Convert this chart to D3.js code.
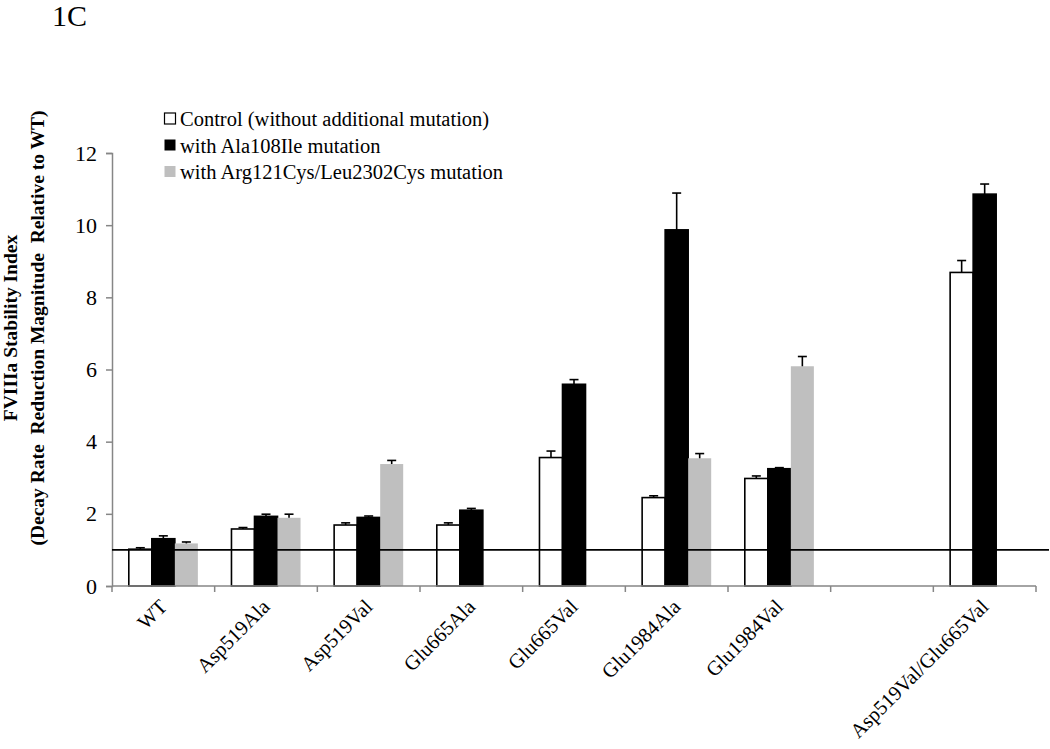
<!DOCTYPE html>
<html>
<head>
<meta charset="utf-8">
<script src="https://cdn.jsdelivr.net/npm/d3@7"></script>
<style>
  html, body { margin: 0; padding: 0; background: #fff; }
  svg { display: block; font-family: "Liberation Serif", "Times New Roman", serif; }
</style>
</head>
<body>
<svg id="chart" width="1050" height="749"></svg>
<script>
// ---- data ----
const categories = ["WT", "Asp519Ala", "Asp519Val", "Glu665Ala", "Glu665Val", "Glu1984Ala", "Glu1984Val", " ", "Asp519Val/Glu665Val"];
const seriesNames = ["Control (without additional mutation)", "with Ala108Ile mutation", "with Arg121Cys/Leu2302Cys mutation"];
const controlValues = [1.02, 1.58, 1.69, 1.69, 3.56, 2.45, 2.98, null, 8.69];
const controlErrors = [0.04, 0.04, 0.06, 0.06, 0.18, 0.05, 0.07, null, 0.33];
const ala108Values  = [1.31, 1.93, 1.90, 2.10, 5.59, 9.87, 3.25, null, 10.86];
const ala108Errors  = [0.08, 0.06, 0.04, 0.05, 0.13, 1.02, 0.03, null, 0.28];
const argCysValues  = [1.18, 1.89, 3.38, null, null, 3.54, 6.09, null, null];
const argCysErrors  = [0.04, 0.10, 0.10, null, null, 0.13, 0.27, null, null];
const yTicks = [0, 2, 4, 6, 8, 10, 12];
const referenceValue = 1;
const yTitleLines = ["FVIIIa Stability Index", "(Decay Rate  Reduction Magnitude  Relative to WT)"];
const panelLabel = "1C";

// ---- styles ----
const fills = ["#ffffff", "#000000", "#bfbfbf"];
const strokes = ["#000000", "#000000", "none"];
const axisColor = "#868686";

const svg = d3.select("#chart");

const x = d3.scaleBand().domain(categories).range([112, 1036]).paddingInner(0).paddingOuter(0);
const xs = d3.scaleBand().domain([0, 1, 2]).range([0, x.bandwidth()]).paddingInner(0).paddingOuter(0.73);
const y = d3.scaleLinear().domain([0, 12]).range([586, 153]);

const seriesVals = [controlValues, ala108Values, argCysValues];
const seriesErrs = [controlErrors, ala108Errors, argCysErrors];

const records = [];
categories.forEach((c, i) => {
  seriesVals.forEach((vals, s) => {
    if (vals[i] != null) records.push({ cat: c, s, v: vals[i], e: seriesErrs[s][i] });
  });
});

// panel label
svg.append("text").attr("x", 52).attr("y", 26).attr("font-size", 30).text(panelLabel);

// y axis
const yAxis = d3.axisLeft(y).tickValues(yTicks).tickSize(6).tickPadding(9).tickFormat(d3.format("d"));
const gy = svg.append("g").attr("transform", "translate(112,0)").call(yAxis);
gy.select(".domain").attr("stroke", axisColor).attr("stroke-width", 1.5);
gy.selectAll(".tick line").attr("stroke", axisColor).attr("stroke-width", 1.5);
gy.selectAll(".tick text").attr("font-size", 22).attr("fill", "#000").attr("font-family", "Liberation Serif");

// bars
const bars = svg.append("g");
bars.selectAll("rect").data(records).join("rect")
  .attr("x", d => x(d.cat) + xs(d.s))
  .attr("width", xs.bandwidth())
  .attr("y", d => y(d.v))
  .attr("height", d => y(0) - y(d.v))
  .attr("fill", d => fills[d.s])
  .attr("stroke", d => strokes[d.s])
  .attr("stroke-width", 1.6);

// error bars (upper only)
const eg = svg.append("g").attr("stroke", "#000").attr("stroke-width", 1.6);
records.forEach(d => {
  const cx = x(d.cat) + xs(d.s) + xs.bandwidth() / 2;
  eg.append("line").attr("x1", cx).attr("x2", cx).attr("y1", y(d.v)).attr("y2", y(d.v + d.e));
  eg.append("line").attr("x1", cx - 4.5).attr("x2", cx + 4.5).attr("y1", y(d.v + d.e)).attr("y2", y(d.v + d.e));
});

// x axis line with ticks between categories
const gx = svg.append("g");
gx.append("line").attr("x1", x.range()[0]).attr("x2", x.range()[1]).attr("y1", y(0)).attr("y2", y(0))
  .attr("stroke", axisColor).attr("stroke-width", 1.5);
const boundaries = categories.map(c => x(c)).concat([x.range()[1]]);
gx.selectAll("line.tk").data(boundaries).join("line").attr("class", "tk")
  .attr("x1", d => d).attr("x2", d => d).attr("y1", y(0)).attr("y2", y(0) + 6)
  .attr("stroke", axisColor).attr("stroke-width", 1.5);
gx.selectAll("text").data(categories).join("text")
  .attr("transform", c => `translate(${x(c) + x.bandwidth() / 2 + 5},${y(0) + 22}) rotate(-45)`)
  .attr("text-anchor", "end")
  .attr("font-size", 20.5)
  .text(c => c.trim());

// reference line at 1
svg.append("line").attr("x1", 112).attr("x2", 1049).attr("y1", y(referenceValue)).attr("y2", y(referenceValue))
  .attr("stroke", "#000").attr("stroke-width", 1.6);

// y title
const yt = svg.append("text")
  .attr("transform", `translate(0,328) rotate(-90)`)
  .attr("text-anchor", "middle").attr("font-weight", "bold").attr("font-size", 19.5)
  .style("white-space", "pre");
yt.append("tspan").attr("x", 0).attr("y", 17).text(yTitleLines[0]);
yt.append("tspan").attr("x", 0).attr("y", 44).text(yTitleLines[1]);

// legend
const lg = svg.append("g");
seriesNames.forEach((n, i) => {
  const cy = 119 + i * 26.5;
  lg.append("rect").attr("x", 164.5).attr("y", cy - 6).attr("width", 11).attr("height", 11)
    .attr("fill", fills[i]).attr("stroke", i === 0 ? "#000" : "none").attr("stroke-width", 1.2);
  lg.append("text").attr("x", 180).attr("y", cy + 7).attr("font-size", 20.5).text(n);
});
</script>
</body>
</html>
